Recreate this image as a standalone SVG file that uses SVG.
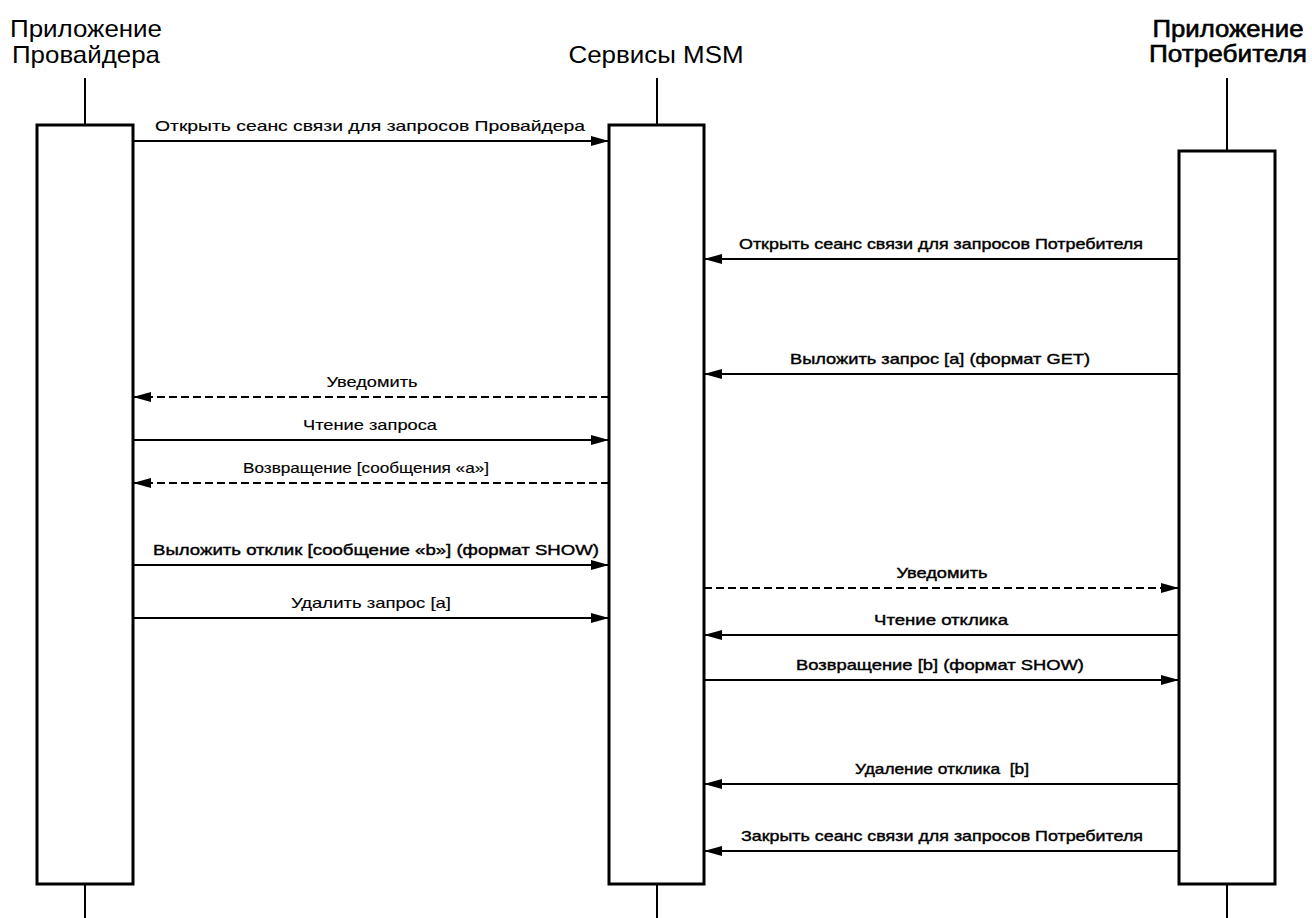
<svg xmlns="http://www.w3.org/2000/svg" width="1312" height="918" viewBox="0 0 1312 918">
<style>
  .title { font-family: "Liberation Sans", Arial, sans-serif; font-size: 24px; fill: #000; text-anchor: middle; }
  .bold { stroke: #000; stroke-width: 0.6; }
  .lbl { font-family: "Liberation Sans", Arial, sans-serif; font-size: 15px; fill: #000; text-anchor: middle; stroke: #000; stroke-width: 0.15; }
  .lblb { stroke-width: 0.4; }
  .box { fill: #fff; stroke: #000; stroke-width: 3; }
  .life { stroke: #000; stroke-width: 2; }
  .msg { stroke: #000; stroke-width: 2.2; fill: none; marker-end: url(#ah); }
  .dash { stroke-dasharray: 8 4; }
</style>
<defs>
  <marker id="ah" markerWidth="18" markerHeight="10" refX="18" refY="5" orient="auto" markerUnits="userSpaceOnUse">
    <path d="M0,0 L18,5 L0,10 z" fill="#000"/>
  </marker>
</defs>
<rect width="1312" height="918" fill="#fff"/>

<g id="provider">
  <text class="title" x="86" y="37" textLength="152" lengthAdjust="spacingAndGlyphs">Приложение</text>
  <text class="title" x="86" y="63" textLength="148" lengthAdjust="spacingAndGlyphs">Провайдера</text>
  <line class="life" x1="85" y1="78" x2="85" y2="125"/>
  <line class="life" x1="85" y1="884" x2="85" y2="918"/>
  <rect class="box" x="37" y="125" width="96" height="759"/>
</g>

<g id="msm">
  <text class="title" x="656" y="63" textLength="175" lengthAdjust="spacingAndGlyphs">Сервисы MSM</text>
  <line class="life" x1="657" y1="78" x2="657" y2="125"/>
  <line class="life" x1="657" y1="884" x2="657" y2="918"/>
  <rect class="box" x="609" y="125" width="95" height="759"/>
</g>

<g id="consumer">
  <text class="title bold" x="1228" y="37" textLength="151" lengthAdjust="spacingAndGlyphs">Приложение</text>
  <text class="title bold" x="1228" y="62" textLength="158" lengthAdjust="spacingAndGlyphs">Потребителя</text>
  <line class="life" x1="1227" y1="78" x2="1227" y2="151"/>
  <line class="life" x1="1227" y1="884" x2="1227" y2="918"/>
  <rect class="box" x="1179" y="151" width="96" height="733"/>
</g>

<g id="connectors">
  <line class="msg" x1="133" y1="141" x2="609" y2="141"/>
  <line class="msg" x1="1179" y1="259" x2="704" y2="259"/>
  <line class="msg" x1="1179" y1="374" x2="704" y2="374"/>
  <line class="msg dash" x1="609" y1="397" x2="133" y2="397"/>
  <line class="msg" x1="133" y1="440" x2="609" y2="440"/>
  <line class="msg dash" x1="609" y1="483" x2="133" y2="483"/>
  <line class="msg" x1="133" y1="565" x2="609" y2="565"/>
  <line class="msg dash" x1="704" y1="588" x2="1179" y2="588"/>
  <line class="msg" x1="133" y1="618" x2="609" y2="618"/>
  <line class="msg" x1="1179" y1="635" x2="704" y2="635"/>
  <line class="msg" x1="704" y1="680" x2="1179" y2="680"/>
  <line class="msg" x1="1179" y1="784" x2="704" y2="784"/>
  <line class="msg" x1="1179" y1="851" x2="704" y2="851"/>
</g>

<g id="labels">
  <text class="lbl" x="370" y="131" textLength="430" lengthAdjust="spacingAndGlyphs">Открыть сеанс связи для запросов Провайдера</text>
  <text class="lbl lblb" x="941" y="249" textLength="404" lengthAdjust="spacingAndGlyphs">Открыть сеанс связи для запросов Потребителя</text>
  <text class="lbl lblb" x="940" y="364" textLength="300" lengthAdjust="spacingAndGlyphs">Выложить запрос [a] (формат GET)</text>
  <text class="lbl" x="372" y="387" textLength="91" lengthAdjust="spacingAndGlyphs">Уведомить</text>
  <text class="lbl" x="370" y="430" textLength="134" lengthAdjust="spacingAndGlyphs">Чтение запроса</text>
  <text class="lbl" x="366" y="473" textLength="246" lengthAdjust="spacingAndGlyphs">Возвращение [сообщения «a»]</text>
  <text class="lbl lblb" x="376" y="555" textLength="446" lengthAdjust="spacingAndGlyphs">Выложить отклик [сообщение «b»] (формат SHOW)</text>
  <text class="lbl lblb" x="942" y="578" textLength="91" lengthAdjust="spacingAndGlyphs">Уведомить</text>
  <text class="lbl" x="371" y="608" textLength="160" lengthAdjust="spacingAndGlyphs">Удалить запрос [a]</text>
  <text class="lbl lblb" x="941" y="625" textLength="134" lengthAdjust="spacingAndGlyphs">Чтение отклика</text>
  <text class="lbl lblb" x="940" y="670" textLength="288" lengthAdjust="spacingAndGlyphs">Возвращение [b] (формат SHOW)</text>
  <text class="lbl lblb" x="942" y="774" textLength="174" lengthAdjust="spacingAndGlyphs" xml:space="preserve">Удаление отклика  [b]</text>
  <text class="lbl lblb" x="942" y="841" textLength="402" lengthAdjust="spacingAndGlyphs">Закрыть сеанс связи для запросов Потребителя</text>
</g>
</svg>
